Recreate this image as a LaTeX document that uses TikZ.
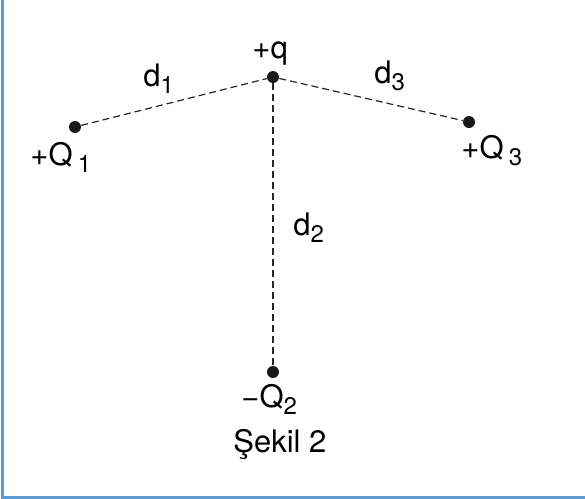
\documentclass[tikz,border=0pt]{standalone}
\usepackage{fontspec}
\setmainfont{TeX Gyre Heros}
\usetikzlibrary{positioning,calc}
\definecolor{frameblue}{RGB}{91,155,213}
\newcommand{\sbs}[1]{\raisebox{-0.45ex}{\fontsize{12}{14}\selectfont #1}}

\begin{document}
\begin{tikzpicture}[
    x=0.5pt, y=-0.5pt,
    charge/.style={circle, fill=black!90, inner sep=0pt, minimum size=6pt},
    lbl/.style={font=\fontsize{15.5}{18}\selectfont, inner sep=0pt, anchor=base west},
    link/.style={dash pattern=on 3.5pt off 2pt, line width=0.6pt, black!85}
]
    \useasboundingbox (0,0) rectangle (585,499);

    % Frame
    \draw[frameblue, line width=1.5pt] (2,0) -- (2,497.5) -- (585,497.5);

    % Charges
    \node[charge] (q) at (273,77) {};
    \node[charge] (Q1) at (75,127) {};
    \node[charge] (Q3) at (469,122) {};
    \node[charge] (Q2) at (273,372) {};

    % Distances
    \draw[link] (Q1) -- (q);
    \draw[link] (q) -- (Q3);
    \draw[link] (q) -- (Q2);

    % Labels
    \node[lbl] (q_lbl) at (252,58) {+q};
    \node[lbl] (Q1_lbl) at (30,165) {+Q\,\sbs{1}};
    \node[lbl] (Q3_lbl) at (461,158) {+Q\,\sbs{3}};
    \node[lbl] (Q2_lbl) at (241,407) {−Q\sbs{2}};
    \node[lbl] (d1_lbl) at (143,86) {d\sbs{1}};
    \node[lbl] (d3_lbl) at (374,83) {d\sbs{3}};
    \node[lbl] (d2_lbl) at (293,235) {d\sbs{2}};
    \node[lbl] (caption) at (233,452) {Şekil 2};
\end{tikzpicture}
\end{document}
